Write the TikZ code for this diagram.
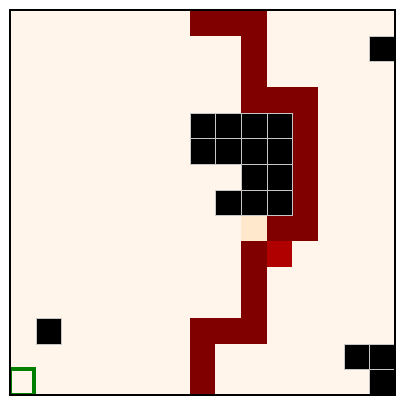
\documentclass[tikz,border=0pt]{standalone}
\usepackage{tikz}

\definecolor{floor}{HTML}{FFF5EB}
\definecolor{trail}{HTML}{800000}
\definecolor{agent}{HTML}{B00000}
\definecolor{visited}{HTML}{FFE8CC}
\definecolor{goal}{HTML}{008000}

\begin{document}
\begin{tikzpicture}[x=1cm, y=-1cm,
    path/.style={fill=trail},
    wall/.style={fill=black, draw=gray!45, line width=0.25pt},
    here/.style={fill=agent},
    seen/.style={fill=visited},
    start/.style={draw=goal, line width=4.4pt}]
    \useasboundingbox (-0.39,-0.39) rectangle (15.39,15.39);
    \fill[floor] (0,0) rectangle (15,15);

    % the trail
    \foreach \c/\r in {7/0,8/0,9/0,9/1,9/2,9/3,10/3,11/3,11/4,11/5,11/6,11/7,
                       10/8,11/8,9/9,9/10,9/11,7/12,8/12,9/12,7/13,7/14}
      \fill[path] (\c,\r) rectangle ++(1,1);
    \fill[seen] (9,8) rectangle ++(1,1);
    \fill[here] (10,9) rectangle ++(1,1);

    % walls
    \foreach \c/\r in {14/1,7/4,8/4,9/4,10/4,7/5,8/5,9/5,10/5,9/6,10/6,
                       8/7,9/7,10/7,1/12,13/13,14/13,14/14}
      \draw[wall] (\c,\r) rectangle ++(1,1);

    \begin{scope}
      \clip (0,0) rectangle (15,15);
      \draw[start] (0,14) rectangle ++(0.95,1);
    \end{scope}

    \draw[line width=1.6pt] (0,0) rectangle (15,15);
  \end{tikzpicture}
\end{document}
